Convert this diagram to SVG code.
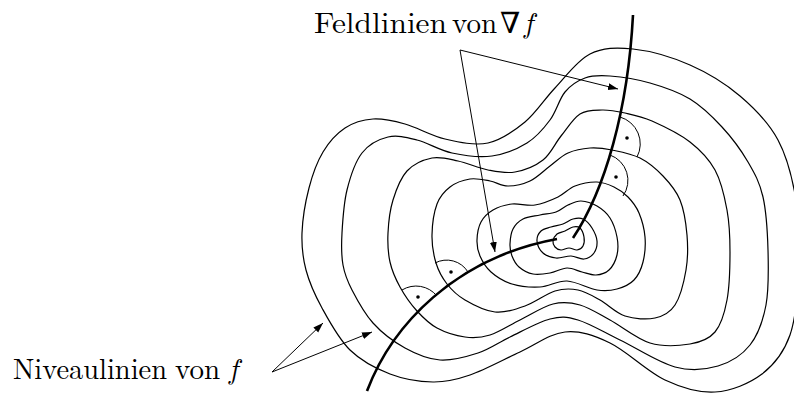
<svg xmlns="http://www.w3.org/2000/svg" width="794" height="393" viewBox="0 0 794 393">
<style>
.lvl{fill:none;stroke:#000;stroke-width:1.2}
.fld{fill:none;stroke:#000;stroke-width:2.6;stroke-linecap:butt}
.mark{fill:none;stroke:#000;stroke-width:1}
.dot{fill:#000}
.arr{fill:none;stroke:#000;stroke-width:1}
.lbl{font-family:"Latin Modern Roman","Liberation Serif","DejaVu Serif",serif;font-size:29px;fill:#000}
</style>
<defs>
<marker id="ah" markerUnits="userSpaceOnUse" markerWidth="11" markerHeight="8" refX="10" refY="3.5" orient="auto">
<path d="M0,0 L10,3.5 L0,7 Z" fill="#000"/>
</marker>
</defs>
<rect width="794" height="393" fill="#fff"/>
<g id="niveaulinien">
<path id="c1" class="lvl" d="M302,233 C302.5,219.3 305.5,201.5 309,188 S317,162 323,152 S336.7,133.5 345,128 S363,119.7 373,119 S393,120.7 405,124 S431.2,135.8 445,139 S474.7,145.8 488,143 S513.8,131.2 525,122 S544.2,99.3 555,88 S577,60.5 590,54 S616.3,47.2 633,49 S672.2,57.2 690,65 S725.3,83.5 740,96 S768.7,122.7 778,140 S792.5,178.7 796,200 S800,245.5 799,268 S796.2,317.3 790,335 S774.5,364.5 762,374 S731.2,391 715,392 S682.5,388.2 665,380 S626.7,351 610,343 S580,330.5 565,332 S535.8,344.8 520,352 S484.5,370 470,375 S446.3,382.2 433,382 S403.8,379.3 390,374 S361.3,361 350,350 S329.3,321.3 322,308 S309.3,282.5 306,270 S301.5,246.7 302,233 Z"/>
<path id="c2" class="lvl" d="M342,233 C342.7,220.5 343.7,203.3 347,190 S355.2,161.8 362,153 S378.8,139.2 388,137 S406.3,137.3 417,140 S439.5,150.3 452,153 S479.5,157.7 492,156 S517.3,149 527,143 S543.7,128.5 550,120 S559.2,99 565,92 S577.5,80.7 585,78 S599.2,75.2 610,76 S636.7,79.2 650,83 S678,91.7 690,99 S712.3,116.5 722,127 S741.2,150.3 748,162 S759.7,182.3 763,197 S767.5,232 768,250 S769,289.2 766,305 S758,334.8 750,345 S730.5,362.3 718,366 S691.3,371.3 675,367 S636.2,347.8 620,340 S589.7,323.5 578,320 S561.3,316.2 550,319 S522,331.3 510,337 S489.7,349.2 478,353 S452.2,360.8 440,360 S416.2,354.2 405,348 S381.8,332.7 373,323 S357,299.7 352,290 S344.7,274.5 343,265 S341.3,245.5 342,233 Z"/>
<path id="c3" class="lvl" d="M388,233 C388.5,222.7 389.8,210.3 393,200 S400.5,178 407,171 S423.5,159.7 432,158 S448.7,159 458,161 S478.5,168.2 488,170 S505.8,173.7 515,172 S535.3,166 543,160 S554.8,143.7 561,136 S573.2,118.3 580,114 S594.5,110.2 602,110 S616.7,111.2 625,113 S641.2,116.2 652,121 S679.5,133.8 690,142 S708.8,158.7 715,170 S724.5,196.3 727,210 S730,237 730,252 S729.5,286.7 727,300 S721.2,324.7 715,332 S700.8,342.2 690,344 S663.3,347 650,343 S621.7,326.3 610,320 S589.5,307.7 580,305 S563,301.5 553,304 S530.5,314.8 520,320 S499.2,332.2 490,335 S473.8,338.2 465,337 S445,332.3 437,328 S423.2,317.8 417,311 S404.5,295.2 400,287 S392,271 390,262 S387.5,243.3 388,233 Z"/>
<path id="c4" class="lvl" d="M432,235 C432.2,225.2 434,212 437,204 S444.5,191.2 450,187 S463.3,180 470,179 S483.7,179.8 490,181 S501.3,186 508,186 S523,184.3 530,181 S543.7,170.7 550,166 S561.3,156 568,153 S582.7,148.5 590,148 S603.7,148.3 612,150 S631.5,153.7 640,158 S656.3,169 663,176 S676,190.2 680,200 S686,223.3 687,235 S688,258.3 686,270 S680.2,297 675,305 S663.3,316.2 655,318 S634.2,319 625,316 S607.8,304.3 600,300 S585.5,291.5 578,290 S563.8,288.3 555,291 S535,302.5 525,306 S505,313 495,312 S473,304.7 465,300 S451.8,290.2 447,284 S438.5,271.2 436,263 S431.8,244.8 432,235 Z"/>
<path id="c5" class="lvl" d="M477,240 C477.2,234.3 478.3,227 481,222 S487.8,213 493,210 S505,204.8 512,204 S527.3,206.2 535,205 S551.3,200.2 558,197 S568.5,188.5 575,186 S590.5,181.8 597,182 S608.8,184.5 614,187 S623.8,192.7 628,197 S636.2,206.3 639,213 S644.3,228.8 645,237 S644.8,254.8 643,262 S638.3,275.5 634,280 S623.2,287.3 617,289 S605.3,291.3 597,290 S576.5,281.5 567,281 S549.2,286.5 540,287 S520.2,286.5 512,284 S496.3,276.7 491,272 S482.3,261.3 480,256 S476.8,245.7 477,240 Z"/>
<path id="c6" class="lvl" d="M510,244 C510.2,239.5 510.8,233.2 513,229 S518.5,221.3 523,219 S534.5,216.2 540,215 S551.3,213.7 556,212 S563.8,206.8 568,205 S576.2,200.8 581,201 S592.2,203.2 597,206 S606.7,212.8 610,218 S615.8,230.8 617,237 S618.3,249.5 617,255 S612.5,266.7 609,270 S600.5,274.7 596,275 S586.8,273.2 582,272 S572.3,267.8 567,268 S555.7,272 550,273 S538.2,275 533,274 S522.5,270 519,267 S513.5,259.8 512,256 S509.8,248.5 510,244 Z"/>
<path id="c7" class="lvl" d="M537,241 C536.7,237.3 538.7,233.3 541,231 S547.3,228.2 551,227 S559.3,225.3 563,224 S569.7,219.8 573,219 S579.8,217.5 583,219 S589.7,224.3 592,228 S596.7,236.8 597,241 S596.2,250 594,253 S587.8,258.5 584,259 S575.7,256.2 571,256 S560.7,258.5 556,258 S546.2,255.8 543,253 S537.3,244.7 537,241 Z"/>
<path id="c8" class="lvl" d="M553,241 C553.3,238.8 555,235.7 557,234 S562.3,232.2 565,231 S570.5,227.5 573,227 S578.2,226.3 580,228 S583.5,234 584,237 S584.2,243.8 583,246 S579.3,249.7 577,250 S571.7,248 569,248 S563.3,250.2 561,250 S556.3,248.5 555,247 S552.7,243.2 553,241 Z"/>
</g>
<g id="feldlinien">
<path id="fl1" class="fld" d="M633,15 C628,110 605,190 573,238"/>
<path id="fl2" class="fld" d="M367,391 C392,325 455,258 557,239"/>
</g>
<g id="right-angle-marks">
<path class="mark" d="M402,290 A27,27 0 0 1 437,296"/>
<circle class="dot" cx="418" cy="297" r="1.8"/>
<path class="mark" d="M435,263 A25,25 0 0 1 468,272"/>
<circle class="dot" cx="451" cy="272" r="1.8"/>
<path class="mark" d="M620,117 A28,28 0 0 1 637,157"/>
<circle class="dot" cx="627" cy="138" r="1.8"/>
<path class="mark" d="M610,155 A27,27 0 0 1 623,196"/>
<circle class="dot" cx="616" cy="177" r="1.8"/>
</g>
<g id="label-feldlinien">
<text class="lbl" y="33"><tspan x="314" textLength="133" lengthAdjust="spacingAndGlyphs">Feldlinien</tspan><tspan x="452">von</tspan><tspan x="500">∇</tspan><tspan x="524" font-style="italic">f</tspan></text>
</g>
<g id="label-niveaulinien">
<text class="lbl" y="379"><tspan x="13" textLength="154" lengthAdjust="spacingAndGlyphs">Niveaulinien</tspan><tspan x="175">von</tspan><tspan x="229" font-style="italic">f</tspan></text>
</g>
<g id="connectors">
<line class="arr" x1="460" y1="50" x2="618" y2="89" marker-end="url(#ah)"/>
<line class="arr" x1="460" y1="50" x2="495" y2="252" marker-end="url(#ah)"/>
<line class="arr" x1="272" y1="372" x2="323" y2="323" marker-end="url(#ah)"/>
<line class="arr" x1="272" y1="372" x2="372" y2="332" marker-end="url(#ah)"/>
</g>
</svg>
